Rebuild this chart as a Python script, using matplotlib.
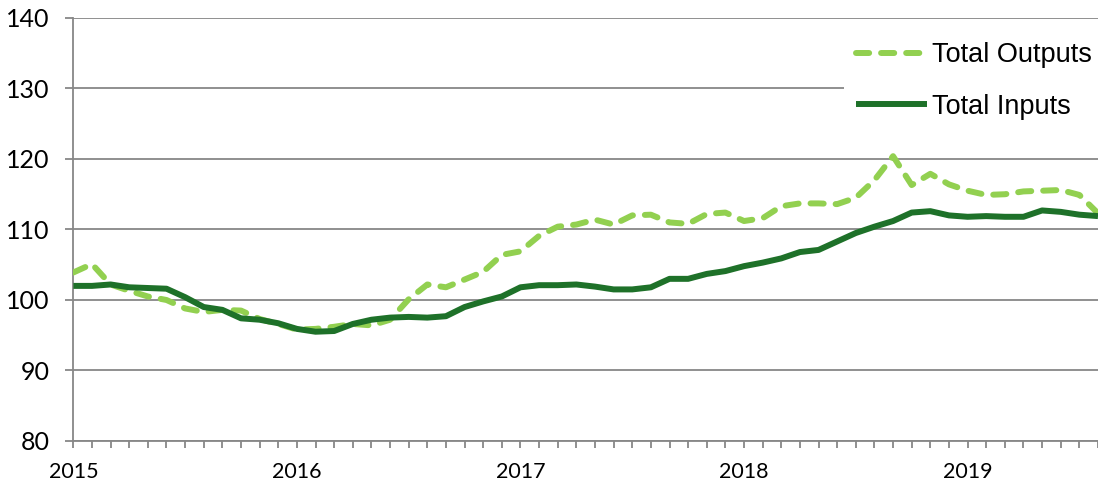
import matplotlib.pyplot as plt

# Monthly index values, Jan 2015 - Aug 2019
months = list(range(56))
year_labels = ["2015", "2016", "2017", "2018", "2019"]

total_outputs = [103.9, 105.1, 102.2, 101.3, 100.5, 100.0, 98.8, 98.3, 98.6, 98.5,
                 97.3, 96.6, 95.8, 95.9, 96.2, 96.6, 96.4, 97.2, 100.1, 102.2,
                 101.8, 102.9, 104.0, 106.4, 106.9, 109.1, 110.4, 110.7, 111.4, 110.7,
                 112.0, 112.1, 111.0, 110.8, 112.2, 112.4, 111.2, 111.6, 113.3, 113.7,
                 113.7, 113.6, 114.5, 117.0, 120.4, 116.3, 117.9, 116.4, 115.5, 114.9,
                 115.0, 115.4, 115.5, 115.6, 114.9, 112.3]

total_inputs = [102.0, 102.0, 102.2, 101.8, 101.7, 101.6, 100.4, 99.0, 98.6, 97.4,
                97.2, 96.7, 95.9, 95.5, 95.6, 96.6, 97.2, 97.5, 97.6, 97.5,
                97.7, 99.0, 99.8, 100.5, 101.8, 102.1, 102.1, 102.2, 101.9, 101.5,
                101.5, 101.8, 103.0, 103.0, 103.7, 104.1, 104.8, 105.3, 105.9, 106.8,
                107.1, 108.3, 109.5, 110.4, 111.2, 112.4, 112.6, 112.0, 111.8, 111.9,
                111.8, 111.8, 112.7, 112.5, 112.1, 111.9]

light_green = "#92D050"
dark_green = "#1E7129"
grey = "#878787"

fig = plt.figure(figsize=(10.98, 4.86), dpi=100)
ax = fig.add_axes([0.0668, 0.0926, 0.9332, 0.8704])

ax.plot(months, total_outputs, color=light_green, lw=4.3, dashes=(2.2, 2.0),
        dash_capstyle="round", label="Total Outputs", zorder=3)
ax.plot(months, total_inputs, color=dark_green, lw=4.3, solid_capstyle="butt",
        label="Total Inputs", zorder=4)

ax.set_xlim(0, 55)
ax.set_ylim(80, 140)
ax.set_yticks(range(80, 141, 10))
ax.grid(axis="y", color=grey, lw=1.3, zorder=1)
ax.set_axisbelow(True)

ax.set_xticks(months)
ax.set_xticklabels([year_labels[m // 12] if m % 12 == 0 else "" for m in months])

for s in ["top", "right"]:
    ax.spines[s].set_visible(False)
for s in ["left", "bottom"]:
    ax.spines[s].set_color(grey)
    ax.spines[s].set_linewidth(1.3)

ax.tick_params(axis="y", length=6, width=1.3, color=grey, pad=11, labelsize=18)
ax.tick_params(axis="x", length=5, width=1.3, color=grey, pad=10, labelsize=15.5)
for t in ax.get_yticklabels() + ax.get_xticklabels():
    t.set_fontfamily("Lato")

leg = ax.legend(loc="upper right", bbox_to_anchor=(1.006, 0.972), frameon=True,
                fancybox=False, edgecolor="none", facecolor="white", framealpha=1,
                prop={"family": "Liberation Sans", "size": 19.5},
                handlelength=2.6, handletextpad=0.2, labelspacing=0.95,
                borderpad=0.45, borderaxespad=0.0)
leg.set_zorder(5)

plt.savefig("out.png", dpi=100)
